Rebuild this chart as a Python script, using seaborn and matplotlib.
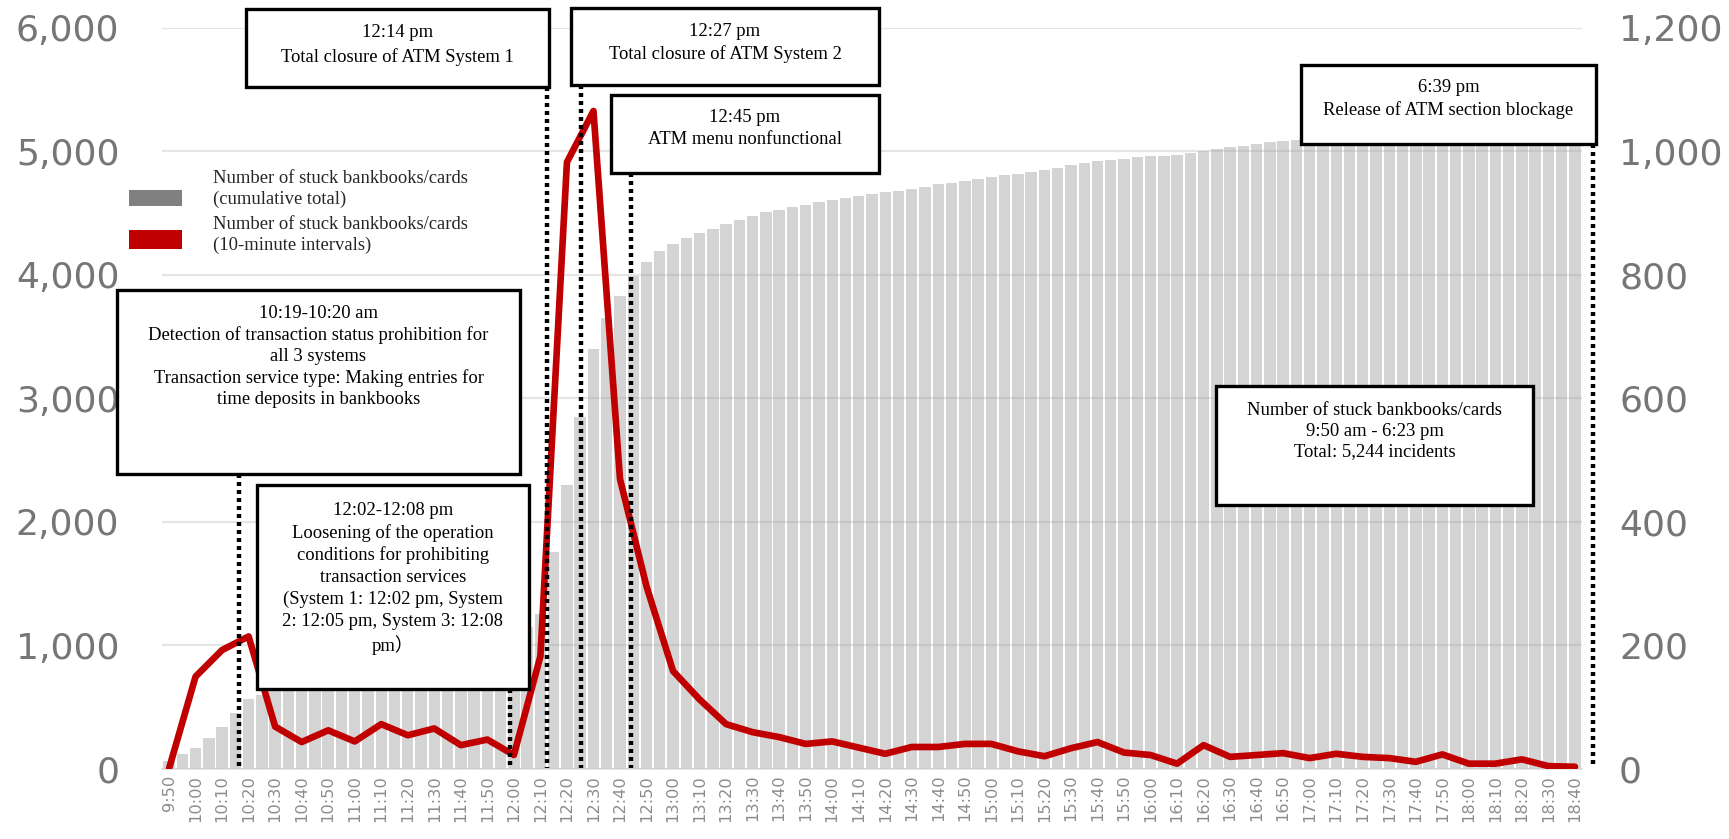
import matplotlib
matplotlib.use("Agg")
import matplotlib.pyplot as plt
import matplotlib.transforms as mtransforms
from matplotlib.patches import Rectangle
from matplotlib.lines import Line2D
from matplotlib.ticker import FuncFormatter
import pandas as pd
import seaborn as sns

# ---------------- data ----------------
line_labels = ["9:50", "10:00", "10:10", "10:20", "10:30", "10:40", "10:50",
               "11:00", "11:10", "11:20", "11:30", "11:40", "11:50",
               "12:00", "12:10", "12:20", "12:30", "12:40", "12:50",
               "13:00", "13:10", "13:20", "13:30", "13:40", "13:50",
               "14:00", "14:10", "14:20", "14:30", "14:40", "14:50",
               "15:00", "15:10", "15:20", "15:30", "15:40", "15:50",
               "16:00", "16:10", "16:20", "16:30", "16:40", "16:50",
               "17:00", "17:10", "17:20", "17:30", "17:40", "17:50",
               "18:00", "18:10", "18:20", "18:30", "18:40"]

# stuck bankbooks/cards per 10-minute interval (right axis)
interval_counts = [0, 149, 192, 214, 68, 43, 62,
                   44, 72, 54, 65, 38, 47,
                   22, 182, 982, 1065, 469, 295,
                   158, 112, 72, 59, 51, 40,
                   44, 34, 24, 35, 35, 40,
                   40, 28, 20, 33, 43, 26,
                   22, 8, 38, 19, 22, 25,
                   17, 24, 19, 17, 11, 23,
                   8, 8, 15, 4, 3]

# cumulative total, one bar every 5 minutes from 9:50 to 18:40 (left axis)
bar_start = "9:50"
bar_step_min = 5
cumulative_total = [60, 120,
                    170, 250, 340, 450, 560, 600, 630, 650, 675, 705, 735, 760,
                    785, 820, 855, 885, 915, 950, 980, 1000, 1020, 1045, 1070, 1080,
                    1090, 1150, 1250, 1750, 2300, 2850, 3400, 3650, 3830, 3990, 4100, 4190,
                    4250, 4300, 4333, 4370, 4410, 4440, 4475, 4505, 4525, 4545, 4562, 4585,
                    4605, 4620, 4635, 4650, 4665, 4680, 4693, 4712, 4730, 4745, 4758, 4775,
                    4790, 4805, 4818, 4830, 4845, 4865, 4885, 4905, 4918, 4930, 4940, 4952,
                    4960, 4964, 4972, 4987, 5000, 5016, 5030, 5043, 5057, 5070, 5084, 5090,
                    5095, 5105, 5120, 5130, 5140, 5150, 5160, 5168, 5175, 5185, 5200, 5210,
                    5215, 5220, 5225, 5232, 5240, 5244, 5244, 5244, 5244]

left_ticks = [0, 1000, 2000, 3000, 4000, 5000, 6000]
right_ticks = [0, 200, 400, 600, 800, 1000, 1200]

legend_labels = ["Number of stuck bankbooks/cards\n(cumulative total)",
                 "Number of stuck bankbooks/cards\n(10-minute intervals)"]

# ---------------- helpers ----------------
def to_min(s):
    h, m = s.split(":")
    return int(h) * 60 + int(m)

t0 = to_min(line_labels[0])
line_minutes = [to_min(s) - t0 for s in line_labels]
bar_minutes = [to_min(bar_start) - t0 + i * bar_step_min for i in range(len(cumulative_total))]

# ---------------- figure ----------------
sns.set_theme(style="white")
plt.rcParams["font.family"] = ["DejaVu Sans"]

W, H = 1729, 839
fig = plt.figure(figsize=(W / 100, H / 100), dpi=100)


def fx(px):
    return px / W


def fy(py):
    return 1 - py / H


ax = fig.add_axes([fx(162.4), fy(768.6), fx(1581.6) - fx(162.4), (768.6 - 27.6) / H])

df_bars = pd.DataFrame({"minute": bar_minutes, "cum": cumulative_total})
sns.barplot(data=df_bars, x="minute", y="cum", native_scale=True, color="#d4d4d4",
            saturation=1, width=0.86, linewidth=0, errorbar=None, ax=ax)

ax.set_xlim(-2.5, 532.5)
ax.set_ylim(0, 6000)
ax.set_yticks(left_ticks)
ax.yaxis.set_major_formatter(FuncFormatter(lambda v, p: f"{int(v):,}"))
ax.set_xticks(line_minutes)
ax.set_xticklabels(line_labels, rotation=90)
ax.set_xlabel("")
ax.set_ylabel("")
ax.set_axisbelow(False)
ax.grid(axis="y", color="#a8a8a8", alpha=0.3, lw=1.6)
ax.grid(axis="x", visible=False)
for s in ["left", "right", "top"]:
    ax.spines[s].set_visible(False)
ax.spines["bottom"].set_color("#e2e2e2")
ax.spines["bottom"].set_linewidth(1.2)
ax.tick_params(axis="y", length=0, pad=31, labelsize=26, labelcolor="#767676")
ax.tick_params(axis="x", length=0, pad=4.5, labelsize=11.7, labelcolor="#8c8c8c")

ax2 = ax.twinx()
df_line = pd.DataFrame({"minute": line_minutes, "count": interval_counts})
sns.lineplot(data=df_line, x="minute", y="count", ax=ax2, color="#c00000", lw=4.8,
             legend=False)
ax2.set_ylim(0, 1200)
ax2.set_xlim(-2.5, 532.5)
ax2.set_yticks(right_ticks)
ax2.yaxis.set_major_formatter(FuncFormatter(lambda v, p: f"{int(v):,}"))
ax2.set_ylabel("")
ax2.grid(False)
for s in ["left", "right", "top", "bottom"]:
    ax2.spines[s].set_visible(False)
ax2.tick_params(axis="y", length=0, pad=27, labelsize=26, labelcolor="#767676")

# ---------------- annotations ----------------
serif = ["Liberation Serif", "Noto Sans CJK JP", "DejaVu Sans"]
TXT = 13.4

trans = mtransforms.blended_transform_factory(ax.transData, fig.transFigure)
# (minute position on the axis, top pixel of the dotted line)
dotted = [(26.4, 474), (128.5, 689), (142.5, 87), (155.3, 85), (174.1, 173), (536.8, 144)]
for t, top in dotted:
    fig.add_artist(Line2D([t, t], [fy(top), fy(768)], transform=trans, color="black",
                          lw=3.2, linestyle=(0, (0.9, 0.9)), zorder=2, clip_on=False))

boxes = [
    ((246, 9, 549, 87), "12:14 pm\nTotal closure of ATM System 1", 45, 1.45),
    ((571, 8, 879, 85), "12:27 pm\nTotal closure of ATM System 2", 43, 1.4),
    ((611, 95, 879, 173), "12:45 pm\nATM menu nonfunctional", 128.5, 1.4),
    ((1301, 65, 1596, 144), "6:39 pm\nRelease of ATM section blockage", 99, 1.3),
    ((117, 290, 520, 474), "10:19-10:20 am\nDetection of transaction status prohibition for\n"
                           "all 3 systems\nTransaction service type: Making entries for\n"
                           "time deposits in bankbooks", 356.5, 1.3),
    ((257, 485, 529, 689), "12:02-12:08 pm\nLoosening of the operation\nconditions for prohibiting\n"
                           "transaction services\n(System 1: 12:02 pm, System\n"
                           "2: 12:05 pm, System 3: 12:08\npm\uff09", 578.5, 1.35),
    ((1216, 386, 1533, 505), "Number of stuck bankbooks/cards\n9:50 am - 6:23 pm\nTotal: 5,244 incidents",
     431, 1.25),
]
for (l, t, r, b), text, cy, ls in boxes:
    fig.add_artist(Rectangle((fx(l), fy(b)), fx(r) - fx(l), fy(t) - fy(b), transform=fig.transFigure,
                             facecolor="white", edgecolor="black", lw=2.4, zorder=3))
    fig.text(fx((l + r) / 2), fy(cy), text, ha="center", va="center", multialignment="center",
             fontsize=TXT, family=serif, color="black", linespacing=ls, zorder=4)

# legend
fig.add_artist(Rectangle((fx(129), fy(206)), fx(182) - fx(129), (206 - 190) / H,
                         transform=fig.transFigure, facecolor="#808080", edgecolor="none", zorder=3))
fig.add_artist(Rectangle((fx(129), fy(249)), fx(182) - fx(129), (249 - 230) / H,
                         transform=fig.transFigure, facecolor="#c00000", edgecolor="none", zorder=3))
fig.text(fx(213), fy(189), legend_labels[0], ha="left", va="center", fontsize=TXT,
         family=serif, linespacing=1.35, zorder=4)
fig.text(fx(213), fy(235), legend_labels[1], ha="left", va="center", fontsize=TXT,
         family=serif, linespacing=1.25, zorder=4)

fig.savefig("out.png", dpi=100)
